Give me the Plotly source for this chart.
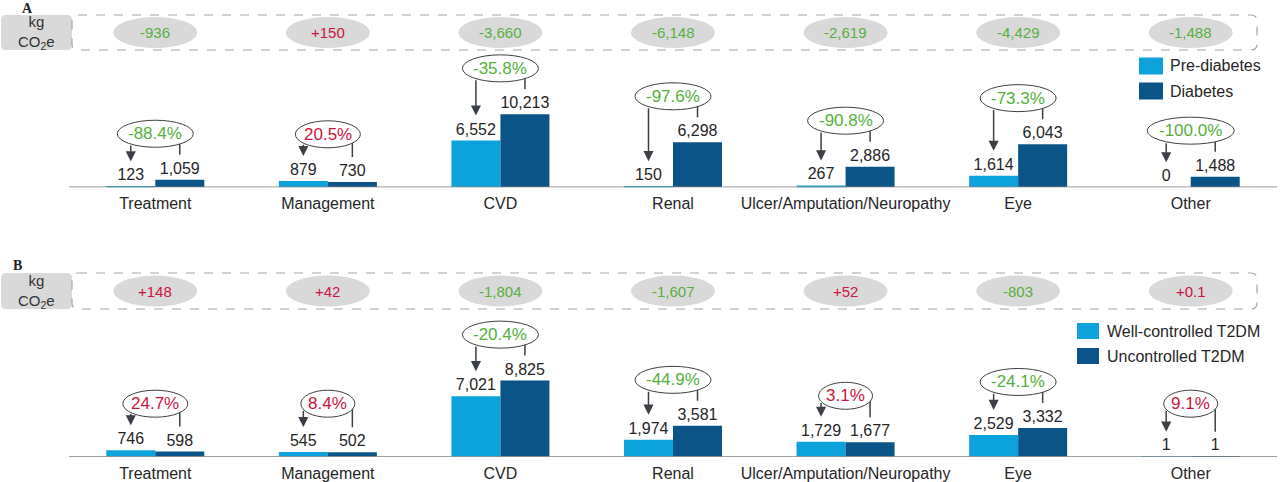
import math
import plotly.graph_objects as go

W, H = 1280, 482

categories = ["Treatment", "Management", "CVD", "Renal",
              "Ulcer/Amputation/Neuropathy", "Eye", "Other"]

# panel A: pre-diabetes vs diabetes (kg CO2e)
a_pre = [123, 879, 6552, 150, 267, 1614, 0]
a_dia = [1059, 730, 10213, 6298, 2886, 6043, 1488]
a_pct = ["-88.4%", "20.5%", "-35.8%", "-97.6%", "-90.8%", "-73.3%", "-100.0%"]
a_diff = ["-936", "+150", "-3,660", "-6,148", "-2,619", "-4,429", "-1,488"]

# panel B: well-controlled vs uncontrolled T2DM
b_well = [746, 545, 7021, 1974, 1729, 2529, 1]
b_unc = [598, 502, 8825, 3581, 1677, 3332, 1]
b_pct = ["24.7%", "8.4%", "-20.4%", "-44.9%", "3.1%", "-24.1%", "9.1%"]
b_diff = ["+148", "+42", "-1,804", "-1,607", "+52", "-803", "+0.1"]

LIGHT = "#0ea2dc"
DARK = "#0b5488"
GREEN = "#55b03c"
RED = "#cc1440"
INK = "#262626"
ARROW = "#3b4046"
FONT = "Liberation Sans, Arial, sans-serif"

X_LEFT, X_RIGHT = 69, 1277
BARGAP = 0.432
OFF = (1 - BARGAP) / 4          # bar centre offset in category units
OFF_PX = OFF * (X_RIGHT - X_LEFT) / len(categories)


def px(x):
    return x / W


def py(y):
    return 1 - y / H


def rounded(x0, y0, x1, y1, r):
    rx, ry = r / W, r / H
    X0, X1, Y0, Y1 = px(x0), px(x1), py(y0), py(y1)
    return (f"M {X0+rx},{Y0} L {X1-rx},{Y0} Q {X1},{Y0} {X1},{Y0-ry} "
            f"L {X1},{Y1+ry} Q {X1},{Y1} {X1-rx},{Y1} L {X0+rx},{Y1} "
            f"Q {X0},{Y1} {X0},{Y1+ry} L {X0},{Y0-ry} Q {X0},{Y0} {X0+rx},{Y0} Z")


panels = [
    dict(ax="", first=a_pre, second=a_dia, pct=a_pct, diff=a_diff,
         names=["Pre-diabetes", "Diabetes"], base=187.3, scale=140, top=52,
         box=(15, 50), letter=("A", 27, 8),
         leg=(1139, 24, 17, [66, 91], 1168)),
    dict(ax="2", first=b_well, second=b_unc, pct=b_pct, diff=b_diff,
         names=["Well-controlled T2DM", "Uncontrolled T2DM"], base=456.7, scale=116, top=312,
         box=(273, 309), letter=("B", 17, 265),
         leg=(1077, 22, 16, [331, 356], 1105)),
]

fig = go.Figure()
shapes, annotations = [], []
layout = {}


def note(x, y, text, size, color, family=FONT, anchor="center"):
    # paper-referenced text, anchored explicitly (auto anchoring shifts it near edges)
    return dict(x=px(x), y=py(y), xref="paper", yref="paper", text=text, showarrow=False,
                xanchor=anchor, yanchor="middle", font=dict(size=size, color=color, family=family))


for p in panels:
    xa, ya = "x" + p["ax"], "y" + p["ax"]
    sc = p["scale"]
    for vals, color, name in [(p["first"], LIGHT, p["names"][0]), (p["second"], DARK, p["names"][1])]:
        fig.add_trace(go.Bar(
            x=categories, y=vals, name=name, marker=dict(color=color, line=dict(width=0)),
            text=[f"{v:,}" for v in vals], textposition="outside", constraintext="none",
            cliponaxis=False, textfont=dict(size=16, color=INK, family=FONT),
            xaxis=xa, yaxis=ya, showlegend=False, hoverinfo="x+y"))

    layout["xaxis" + p["ax"]] = dict(
        domain=[px(X_LEFT), px(X_RIGHT)], anchor=ya, showline=False,
        showgrid=False, zeroline=False, ticks="", range=[-0.5, 6.5],
        tickfont=dict(size=16, color=INK, family=FONT), ticklabelstandoff=5)
    layout["yaxis" + p["ax"]] = dict(
        domain=[py(p["base"]), py(p["top"])], anchor=xa, range=[0, (p["base"] - p["top"]) * sc],
        visible=False, showgrid=False, zeroline=False)

    # baseline drawn over the bars
    shapes.append(dict(type="line", xref="paper", yref=ya, x0=px(X_LEFT), x1=px(X_RIGHT),
                       y0=0, y1=0, line=dict(color="#7f7f7f", width=1.5)))

    # callouts: ellipse with % change, arrow to first bar, line from second bar
    for i, (v1, v2, t) in enumerate(zip(p["first"], p["second"], p["pct"])):
        col = GREEN if t.startswith("-") else RED
        a = (11 * len(t) + 10) / 2
        b = 13.5
        e_px = max(max(v1, v2) / sc + 46, 53)
        dy = b * math.sqrt(max(0.0, 1 - (OFF_PX / a) ** 2))
        tip_px = v1 / sc + 25
        end_px = v2 / sc + 25
        shapes.append(dict(type="line", xref=xa, yref=ya, x0=i + OFF, x1=i + OFF,
                           y0=e_px * sc, y1=end_px * sc, line=dict(color=ARROW, width=1.5)))
        shapes.append(dict(type="circle", xref=xa, yref=ya, xsizemode="pixel", ysizemode="pixel",
                           xanchor=i, yanchor=e_px * sc, x0=-a, x1=a, y0=-b, y1=b,
                           fillcolor="white", line=dict(color="#404040", width=1)))
        annotations.append(dict(x=i, y=e_px * sc, xref=xa, yref=ya, text=t, showarrow=False,
                                font=dict(size=17, color=col, family=FONT)))
        annotations.append(dict(x=i - OFF, y=tip_px * sc, xref=xa, yref=ya, text="",
                                showarrow=True, ax=0, ay=-((e_px - dy) - tip_px),
                                arrowhead=2, arrowsize=1.35, arrowwidth=1.5, arrowcolor=ARROW,
                                standoff=0, startstandoff=0))

    # kg CO2e summary row
    y0, y1 = p["box"]
    yc = (y0 + y1) / 2
    shapes.append(dict(type="path", xref="paper", yref="paper", path=rounded(1, y0, 72, y1, 5),
                       fillcolor="#d9d9d9", line=dict(width=0)))
    shapes.append(dict(type="path", xref="paper", yref="paper", path=rounded(72, y0, 1257, y1, 6),
                       fillcolor="rgba(0,0,0,0)", line=dict(color="#a6a6a6", width=1.2, dash="dash")))
    annotations.append(note(36, yc, "kg<br>CO<sub>2</sub>e", 15, "#333333"))
    for i, d in enumerate(p["diff"]):
        col = GREEN if d.startswith("-") else RED
        shapes.append(dict(type="circle", xref=xa, yref="paper", xsizemode="pixel", ysizemode="pixel",
                           xanchor=i, yanchor=py(yc), x0=-42, x1=42, y0=-15.5, y1=15.5,
                           fillcolor="#d9d9d9", line=dict(width=0)))
        annotations.append(dict(x=i, y=py(yc), xref=xa, yref="paper", text=d, showarrow=False,
                                xanchor="center", yanchor="middle",
                                font=dict(size=15, color=col, family=FONT)))

    # panel letter
    lt, lx, ly = p["letter"]
    annotations.append(note(lx, ly, f"<b>{lt}</b>", 14, "#222222", "Liberation Serif, serif"))

    # legend
    lx0, lw, lh, rows, tx = p["leg"]
    for name, color, ry in zip(p["names"], [LIGHT, DARK], rows):
        shapes.append(dict(type="rect", xref="paper", yref="paper", x0=px(lx0), x1=px(lx0 + lw),
                           y0=py(ry - lh / 2), y1=py(ry + lh / 2), fillcolor=color, line=dict(width=0)))
        annotations.append(note(tx, ry, name, 16, INK, anchor="left"))

fig.update_layout(
    width=W, height=H, margin=dict(l=0, r=0, t=0, b=0),
    paper_bgcolor="white", plot_bgcolor="white",
    barmode="group", bargap=BARGAP, bargroupgap=0,
    font=dict(family=FONT, color=INK),
    shapes=shapes, annotations=annotations, **layout)

# drop the default page margin so the figure sits at the window's top-left corner
fig.write_html("out.html", config={"displayModeBar": False},
               post_script="document.body.style.margin='0';")
